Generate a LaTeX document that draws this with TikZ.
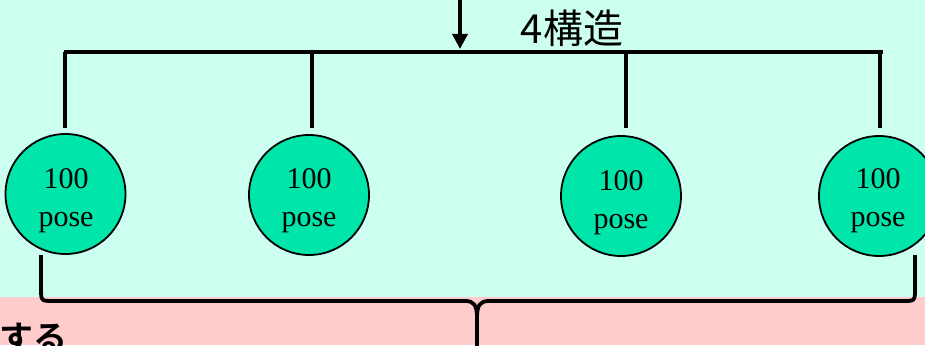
\documentclass[tikz,border=0pt]{standalone}
\usepackage{fontspec}
\setmainfont{Liberation Serif}
\newfontfamily\cjk{Noto Sans CJK JP}
\newfontfamily\cjkbold{Noto Sans CJK JP Bold}
\usetikzlibrary{arrows.meta}
\definecolor{mint}{HTML}{CCFFF0}
\definecolor{pinkbg}{HTML}{FFCCCC}
\definecolor{posefill}{HTML}{00E6AA}
\tikzset{
  posecircle/.style={circle, draw=black, line width=1.8pt, fill=posefill, minimum size=120pt, inner sep=0pt},
  posetext/.style={font=\fontsize{30}{36}\selectfont, anchor=base, inner sep=0pt},
  thick line/.style={line width=3.8pt},
}
\begin{document}
\begin{tikzpicture}[x=1pt,y=-1pt]
\useasboundingbox (0,0) rectangle (925,345);
\fill[mint] (0,0) rectangle (925,297);
\fill[pinkbg] (0,297) rectangle (925,345);

% top arrow and bar
\coordinate (arrTop) at (460,-3);
\coordinate (arrTip) at (460,49);
\draw[line width=3.5pt, -{Triangle[width=15pt,length=15pt]}] (arrTop) -- (arrTip);
\coordinate (barL) at (64,52);
\coordinate (barR) at (883,52);
\draw[line width=3.8pt] (barL) -- (barR);
\node[font=\cjk\fontsize{40}{40}\selectfont, inner sep=0pt] (label4) at (572,28) {4構造};

% circles
\node[posecircle] (p1) at (65.5,194) {};
\node[posecircle] (p2) at (309,195) {};
\node[posecircle] (p3) at (621,196) {};
\node[posecircle] (p4) at (879,196) {};

\foreach \n/\x in {1/65,2/312,3/626,4/880}{
  \coordinate (d\n top) at (\x,52);
  \coordinate (d\n bot) at (\x,128);
  \draw[thick line] (d\n top) -- (d\n bot);
}

\node[posetext] (t1a) at (66,188) {100};
\node[posetext] (t1b) at (66,226) {pose};
\node[posetext] (t2a) at (309,188) {100};
\node[posetext] (t2b) at (309,226) {pose};
\node[posetext] (t3a) at (621,190) {100};
\node[posetext] (t3b) at (621,228) {pose};
\node[posetext] (t4a) at (878,188) {100};
\node[posetext] (t4b) at (878,226) {pose};

% brace
\coordinate (bl) at (41,255);
\coordinate (br) at (915,255);
\coordinate (bt) at (477,347);
\draw[thick line, line join=round] (bl) -- (41,288) .. controls (41,301) .. (53,301)
  -- (465,301) .. controls (474,301) and (477,305) .. (477,318) -- (bt);
\draw[thick line, line join=round] (br) -- (915,288) .. controls (915,301) .. (903,301)
  -- (489,301) .. controls (480,301) and (477,305) .. (477,318);

\node[font=\cjkbold\fontsize{34}{34}\selectfont, anchor=base east, inner sep=0pt] (suru) at (68,350) {する};
\end{tikzpicture}
\end{document}
